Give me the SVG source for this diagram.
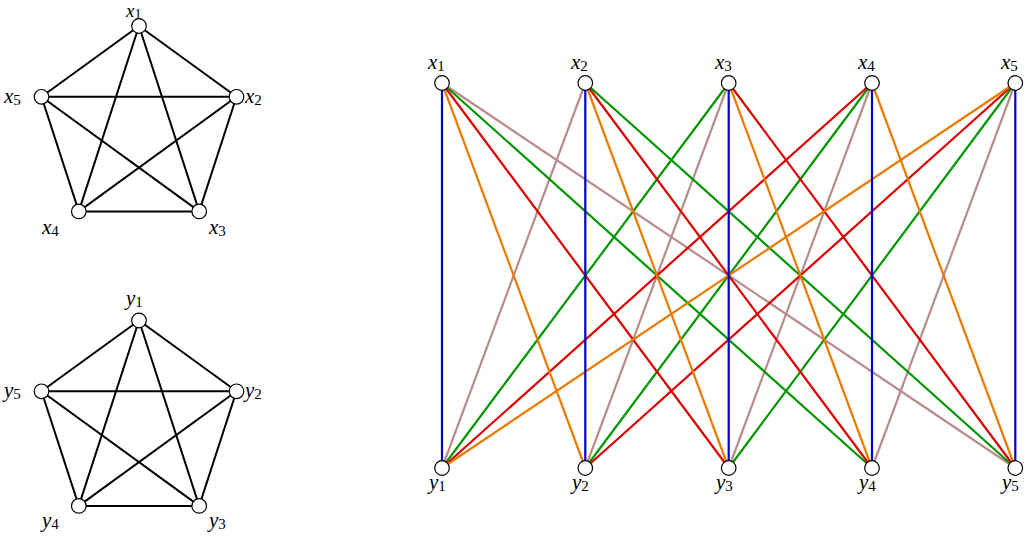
<svg xmlns="http://www.w3.org/2000/svg" width="1028" height="540" viewBox="0 0 1028 540">
<style>
.e{stroke:#000;stroke-width:2;fill:none}
.b{stroke:#0000c8;stroke-width:2.2}
.o{stroke:#ea7a00;stroke-width:2.2}
.r{stroke:#dd0000;stroke-width:2.2}
.g{stroke:#009600;stroke-width:2.2}
.p{stroke:#b88c8c;stroke-width:2.2}
.n{fill:#fff;stroke:#000;stroke-width:1.2}
.l{font-family:"Liberation Serif",serif;font-style:italic;font-size:21px;fill:#000}
.s{font-style:normal;font-size:15px}
</style>
<g id="connectors">
<g id="k5x" class="e">
<line x1="139" y1="26" x2="236.5" y2="96.8"/><line x1="139" y1="26" x2="199.2" y2="211.4"/><line x1="139" y1="26" x2="78.8" y2="211.4"/><line x1="139" y1="26" x2="41.5" y2="96.8"/>
<line x1="236.5" y1="96.8" x2="199.2" y2="211.4"/><line x1="236.5" y1="96.8" x2="78.8" y2="211.4"/><line x1="236.5" y1="96.8" x2="41.5" y2="96.8"/>
<line x1="199.2" y1="211.4" x2="78.8" y2="211.4"/><line x1="199.2" y1="211.4" x2="41.5" y2="96.8"/>
<line x1="78.8" y1="211.4" x2="41.5" y2="96.8"/>
</g>
<g id="k5y" class="e">
<line x1="139" y1="320.5" x2="236.5" y2="391.3"/><line x1="139" y1="320.5" x2="199.2" y2="505.9"/><line x1="139" y1="320.5" x2="78.8" y2="505.9"/><line x1="139" y1="320.5" x2="41.5" y2="391.3"/>
<line x1="236.5" y1="391.3" x2="199.2" y2="505.9"/><line x1="236.5" y1="391.3" x2="78.8" y2="505.9"/><line x1="236.5" y1="391.3" x2="41.5" y2="391.3"/>
<line x1="199.2" y1="505.9" x2="78.8" y2="505.9"/><line x1="199.2" y1="505.9" x2="41.5" y2="391.3"/>
<line x1="78.8" y1="505.9" x2="41.5" y2="391.3"/>
</g>
<g id="bipartite">
<line class="p" x1="442" y1="83" x2="1015.3" y2="468"/>
<line class="p" x1="585.3" y1="83" x2="442" y2="468"/>
<line class="p" x1="728.7" y1="83" x2="585.3" y2="468"/>
<line class="p" x1="872" y1="83" x2="728.7" y2="468"/>
<line class="p" x1="1015.3" y1="83" x2="872" y2="468"/>
<line class="g" x1="442" y1="83" x2="872" y2="468"/>
<line class="g" x1="585.3" y1="83" x2="1015.3" y2="468"/>
<line class="g" x1="728.7" y1="83" x2="442" y2="468"/>
<line class="g" x1="872" y1="83" x2="585.3" y2="468"/>
<line class="g" x1="1015.3" y1="83" x2="728.7" y2="468"/>
<line class="r" x1="442" y1="83" x2="728.7" y2="468"/>
<line class="r" x1="585.3" y1="83" x2="872" y2="468"/>
<line class="r" x1="728.7" y1="83" x2="1015.3" y2="468"/>
<line class="r" x1="872" y1="83" x2="442" y2="468"/>
<line class="r" x1="1015.3" y1="83" x2="585.3" y2="468"/>
<line class="o" x1="442" y1="83" x2="585.3" y2="468"/>
<line class="o" x1="585.3" y1="83" x2="728.7" y2="468"/>
<line class="o" x1="728.7" y1="83" x2="872" y2="468"/>
<line class="o" x1="872" y1="83" x2="1015.3" y2="468"/>
<line class="o" x1="1015.3" y1="83" x2="442" y2="468"/>
<line class="b" x1="442" y1="83" x2="442" y2="468"/>
<line class="b" x1="585.3" y1="83" x2="585.3" y2="468"/>
<line class="b" x1="728.7" y1="83" x2="728.7" y2="468"/>
<line class="b" x1="872" y1="83" x2="872" y2="468"/>
<line class="b" x1="1015.3" y1="83" x2="1015.3" y2="468"/>
</g>
</g>
<g id="px1"><circle class="n" cx="139" cy="26" r="7.3"/><text class="l" x="126" y="17" style="font-size:19px">x<tspan class="s" dy="2" style="font-size:14px">1</tspan></text></g>
<g id="px2"><circle class="n" cx="236.5" cy="96.8" r="7.3"/><text class="l" x="245" y="103">x<tspan class="s" dy="2">2</tspan></text></g>
<g id="px3"><circle class="n" cx="199.2" cy="211.4" r="7.3"/><text class="l" x="209" y="234">x<tspan class="s" dy="2">3</tspan></text></g>
<g id="px4"><circle class="n" cx="78.8" cy="211.4" r="7.3"/><text class="l" x="42" y="234">x<tspan class="s" dy="2">4</tspan></text></g>
<g id="px5"><circle class="n" cx="41.5" cy="96.8" r="7.3"/><text class="l" x="4" y="103">x<tspan class="s" dy="2">5</tspan></text></g>
<g id="py1"><circle class="n" cx="139" cy="320.5" r="7.3"/><text class="l" x="126" y="305">y<tspan class="s" dy="2">1</tspan></text></g>
<g id="py2"><circle class="n" cx="236.5" cy="391.3" r="7.3"/><text class="l" x="245" y="397">y<tspan class="s" dy="2">2</tspan></text></g>
<g id="py3"><circle class="n" cx="199.2" cy="505.9" r="7.3"/><text class="l" x="209" y="527">y<tspan class="s" dy="2">3</tspan></text></g>
<g id="py4"><circle class="n" cx="78.8" cy="505.9" r="7.3"/><text class="l" x="42" y="527">y<tspan class="s" dy="2">4</tspan></text></g>
<g id="py5"><circle class="n" cx="41.5" cy="391.3" r="7.3"/><text class="l" x="4" y="397">y<tspan class="s" dy="2">5</tspan></text></g>
<g id="bx1"><circle class="n" cx="442" cy="83" r="7.3"/><text class="l" x="428" y="69">x<tspan class="s" dy="2">1</tspan></text></g>
<g id="bx2"><circle class="n" cx="585.3" cy="83" r="7.3"/><text class="l" x="571" y="69">x<tspan class="s" dy="2">2</tspan></text></g>
<g id="bx3"><circle class="n" cx="728.7" cy="83" r="7.3"/><text class="l" x="715" y="69">x<tspan class="s" dy="2">3</tspan></text></g>
<g id="bx4"><circle class="n" cx="872" cy="83" r="7.3"/><text class="l" x="858" y="69">x<tspan class="s" dy="2">4</tspan></text></g>
<g id="bx5"><circle class="n" cx="1015.3" cy="83" r="7.3"/><text class="l" x="1001" y="69">x<tspan class="s" dy="2">5</tspan></text></g>
<g id="by1"><circle class="n" cx="442" cy="468" r="7.3"/><text class="l" x="429" y="489">y<tspan class="s" dy="2">1</tspan></text></g>
<g id="by2"><circle class="n" cx="585.3" cy="468" r="7.3"/><text class="l" x="572" y="489">y<tspan class="s" dy="2">2</tspan></text></g>
<g id="by3"><circle class="n" cx="728.7" cy="468" r="7.3"/><text class="l" x="716" y="489">y<tspan class="s" dy="2">3</tspan></text></g>
<g id="by4"><circle class="n" cx="872" cy="468" r="7.3"/><text class="l" x="859" y="489">y<tspan class="s" dy="2">4</tspan></text></g>
<g id="by5"><circle class="n" cx="1015.3" cy="468" r="7.3"/><text class="l" x="1002" y="489">y<tspan class="s" dy="2">5</tspan></text></g>
</svg>
